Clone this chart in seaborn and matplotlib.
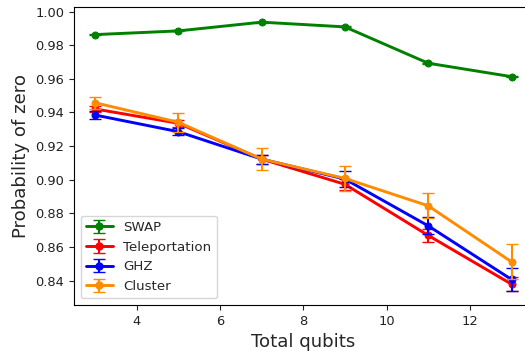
import numpy as np
import pandas as pd
import matplotlib
matplotlib.use("Agg")
import matplotlib.pyplot as plt
import seaborn as sns

qubits = [3, 5, 7, 9, 11, 13]
swap = [0.9863, 0.9885, 0.9937, 0.9909, 0.9693, 0.9613]
swap_err = [0.0003, 0.0003, 0.0003, 0.0003, 0.0003, 0.0003]
teleport = [0.9421, 0.9336, 0.9123, 0.8973, 0.8669, 0.8379]
teleport_err = [0.002, 0.002, 0.0027, 0.0034, 0.0038, 0.004]
ghz = [0.9385, 0.9286, 0.9123, 0.9004, 0.8726, 0.8407]
ghz_err = [0.0022, 0.002, 0.0027, 0.005, 0.005, 0.0067]
cluster = [0.9458, 0.9342, 0.9123, 0.9008, 0.8845, 0.8512]
cluster_err = [0.0036, 0.0057, 0.0065, 0.0073, 0.0074, 0.0103]

names = ["SWAP", "Teleportation", "GHZ", "Cluster"]
values = [swap, teleport, ghz, cluster]
errors = [swap_err, teleport_err, ghz_err, cluster_err]
colors = ["green", "red", "blue", "darkorange"]

sns.set_style("white")
plt.rcParams["font.family"] = ["DejaVu Sans"]

fig = plt.figure(figsize=(5.25, 3.51), dpi=100)
ax = fig.add_axes([0.141, 0.131, 0.873, 0.848])

handles = []
for i, (name, v, e, c) in enumerate(zip(names, values, errors, colors)):
    df = pd.DataFrame({"qubits": qubits, "p": v})
    z = 2 + i
    sns.lineplot(data=df, x="qubits", y="p", color=c, marker="o", markersize=5,
                 markeredgecolor=c, linewidth=2.1, ax=ax, zorder=z, legend=False)
    ax.errorbar(qubits, v, yerr=e, fmt="none", ecolor=c, elinewidth=1.5,
                capsize=4, zorder=z)
    h = ax.errorbar([np.nan], [np.nan], yerr=[np.nan], fmt="o-", color=c,
                    markersize=5, linewidth=2.1, elinewidth=1.5, capsize=4, label=name)
    handles.append(h)

ax.set_xlim(2.5, 13.5)
ax.set_ylim(0.8255, 1.0025)
ax.set_xticks([4, 6, 8, 10, 12])
yt = [0.84, 0.86, 0.88, 0.90, 0.92, 0.94, 0.96, 0.98, 1.00]
ax.set_yticks(yt)
ax.set_yticklabels([f"{t:.2f}" for t in yt])
ax.tick_params(axis="both", which="both", direction="out", length=3.5, width=0.8,
               labelsize=9.4, left=True, bottom=True, colors="#222222", labelcolor="#222222")
for s in ax.spines.values():
    s.set_color("black")
    s.set_linewidth(0.8)
ax.set_xlabel("Total qubits", fontsize=13.1, labelpad=4)
ax.set_ylabel("Probability of zero", fontsize=13.1, labelpad=4)
ax.legend(handles=handles, labels=names, loc="lower left", fontsize=9.6, frameon=True)

fig.savefig("out.png", dpi=100)
